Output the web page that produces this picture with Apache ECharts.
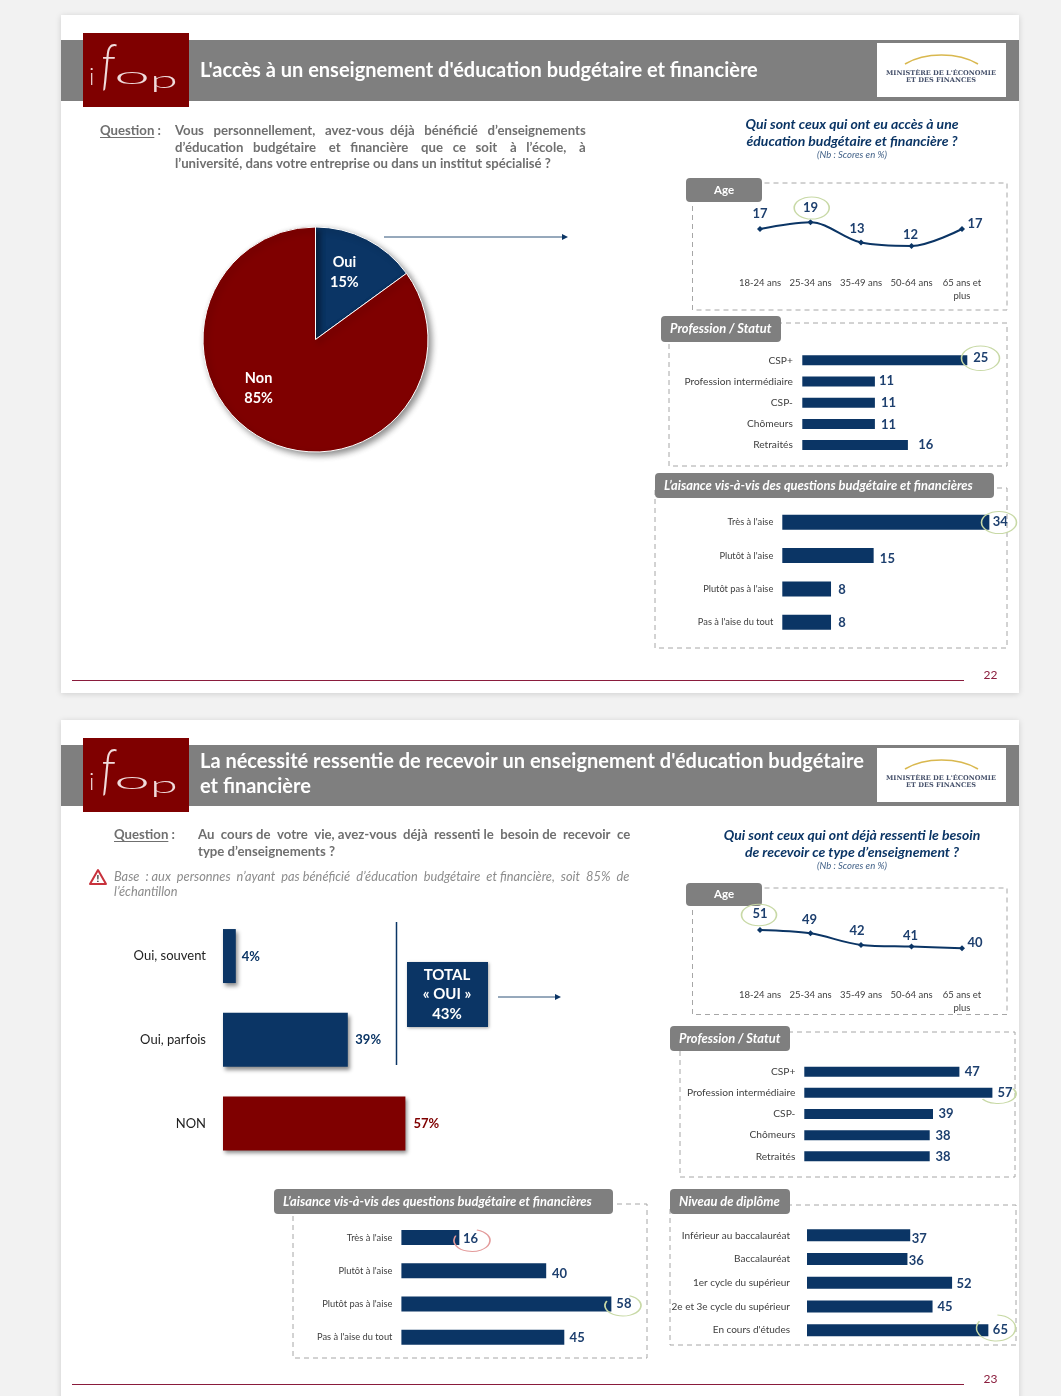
<!DOCTYPE html>
<html lang="fr"><head><meta charset="utf-8"><title>Ifop</title>
<style>html,body{margin:0;padding:0;background:#f2f2f2}#c{width:1061px;height:1396px}</style>
<script src="https://cdn.jsdelivr.net/npm/echarts@6/dist/echarts.min.js"></script></head>
<body><div id="c"></div>
<script>
// ---------- data ----------
const pieNames=['Oui','Non'];
const pieValues=[15,85];
const ageCats=['18-24 ans','25-34 ans','35-49 ans','50-64 ans','65 ans et\nplus'];
const age1=[17,19,13,12,17];
const age2=[51,49,42,41,40];
const profCats=['CSP+','Profession intermédiaire','CSP-','Chômeurs','Retraités'];
const prof1=[25,11,11,11,16];
const prof2=[47,57,39,38,38];
const aiseCats=["Très à l'aise","Plutôt à l'aise","Plutôt pas à l'aise","Pas à l'aise du tout"];
const aise1=[34,15,8,8];
const aise2=[16,40,58,45];
const dipCats=['Inférieur au baccalauréat','Baccalauréat','1er cycle du supérieur','2e et 3e cycle du supérieur',"En cours d'études"];
const dip2=[37,36,52,45,65];
const besoinCats=['Oui, souvent','Oui, parfois','NON'];
const besoin=[4,39,57];
const title1="L'accès à un enseignement d'éducation budgétaire et financière";
const title2=["La nécessité ressentie de recevoir un enseignement d'éducation budgétaire","et financière"];

// ---------- style ----------
const NAVY='#0b3565',MAROON='#7f0000',GRAY='#7f7f7f',FONT='Lato, "Open Sans", sans-serif';
const measure=document.createElement('canvas').getContext('2d');
const g=[];
function text(x,y,s,o={}){
  g.push({type:'text',x,y:y+1,z:o.z||6,silent:true,scaleX:o.scaleX||1,scaleY:o.scaleY||1,
    style:{text:s,fontFamily:o.family||FONT,fontSize:o.size||12,fontWeight:o.weight||'normal',
      fontStyle:o.italic?'italic':'normal',fill:o.fill||'#333',align:o.align||'left',verticalAlign:'middle'}});
}
function rect(x,y,w,h,o={}){
  g.push({type:'rect',z:o.z||1,silent:true,shape:{x,y,width:w,height:h,r:o.r||0},
    style:{fill:o.fill||'none',stroke:o.stroke||null,lineWidth:o.lw||1,lineDash:o.dash||null,
      shadowBlur:o.blur||0,shadowColor:o.shadow||'transparent',shadowOffsetX:o.sx||0,shadowOffsetY:o.sy||0}});
}
function line(x1,y1,x2,y2,c,w){
  g.push({type:'line',z:5,silent:true,shape:{x1,y1,x2,y2},style:{stroke:c,lineWidth:w||1}});
}
function arrow(x1,x2,y){
  line(x1,y,x2-5,y,'#2f5379',1);
  g.push({type:'polygon',z:5,silent:true,shape:{points:[[x2-6,y-3],[x2,y],[x2-6,y+3]]},style:{fill:NAVY}});
}
function ell(cx,cy,rx,ry,c,a0,a1){
  g.push({type:'arc',z:8,silent:true,x:cx,y:cy,scaleX:rx/ry,scaleY:1,
    shape:{cx:0,cy:0,r:ry,startAngle:a0===undefined?0:a0,endAngle:a1===undefined?Math.PI*2:a1},
    style:{stroke:c,lineWidth:1,fill:'none',strokeNoScale:true}});
}
function justified(s,x0,x1,y,o){
  const f=(o.italic?'italic ':'')+(o.weight||'normal')+' '+o.size+'px '+FONT;
  measure.font=f;
  const words=s.split(' ');
  const space=measure.measureText(' ').width;
  const gap=(x1-x0-measure.measureText(words.join('')).width)/(words.length-1);
  let err=0,out=words[0];
  for(let i=1;i<words.length;i++){
    const want=gap+err,n=Math.max(1,Math.round(want/space));
    err=want-n*space;out+=' '.repeat(n)+words[i];
  }
  text(x0,y,out,o);
}
function panel(bx,by,bw,bh,tx,ty,tw,th,label,italic){
  rect(bx,by,bw,bh,{stroke:'#a6a6a6',dash:[5,4],z:1});
  rect(tx,ty,tw,th,{fill:GRAY,r:4,z:3});
  text(tx+(italic?9:tw/2),ty+th/2-1,label,{fill:'#fff',weight:'bold',size:italic?12.9:11.5,italic,align:italic?'left':'center'});
}
function header(dy){
  rect(61,40+dy,958,61,{fill:GRAY,z:2});
  rect(83,33+dy,106,74,{fill:MAROON,z:3});
  const L={family:'Lato',weight:300,size:24,fill:'#f0dcdc'};
  text(89,76+dy,'i',L);
  text(101,64+dy,'f',{...L,size:56,italic:true,scaleX:0.8});
  text(114,75+dy,'o',{...L,scaleX:2.7});
  text(150,79+dy,'p',{...L,scaleX:2.1});
  rect(877,43+dy,129,54,{fill:'#fff',z:3});
  g.push({type:'bezierCurve',z:5,silent:true,shape:{x1:905,y1:64+dy,x2:978,y2:64+dy,cpx1:925,cpy1:52+dy,cpx2:958,cpy2:52+dy},style:{stroke:'#d9b84f',lineWidth:1.6,fill:'none'}});
  text(941,72+dy,"MINISTÈRE DE L'ÉCONOMIE",{family:'DejaVu Serif',weight:'bold',size:6.6,fill:'#45506a',align:'center'});
  text(941,79.5+dy,'ET DES FINANCES',{family:'DejaVu Serif',weight:'bold',size:6.6,fill:'#45506a',align:'center'});
}
function footer(y,n){
  line(72,y+.5,964,y+.5,'#8a1c3c',1);
  text(990.5,y-6,n,{size:12,fill:'#8a1c3c',align:'center'});
}

// ---------- slide furniture ----------
rect(61,15,958,678,{fill:'#fff',z:0,blur:6,shadow:'rgba(0,0,0,.15)',sy:1});
rect(61,720,958,690,{fill:'#fff',z:0,blur:6,shadow:'rgba(0,0,0,.15)',sy:1});
header(0);header(705);
text(200,70,title1,{size:20,weight:'bold',fill:'#fff'});
text(200,761,title2[0],{size:20,weight:'bold',fill:'#fff'});
text(200,786,title2[1],{size:20,weight:'bold',fill:'#fff'});
const Q={size:13.2,weight:'bold',fill:'#6f6f6f'};
function question(x,y){
  text(x,y,'Question :',Q);
  measure.font='bold 13.2px '+FONT;
  line(x,y+7.5,x+measure.measureText('Question').width,y+7.5,'#6f6f6f',1);
}
question(100,130);
justified('Vous personnellement, avez-vous déjà bénéficié d’enseignements',175,585,130,Q);
justified('d’éducation budgétaire et financière que ce soit à l’école, à',175,585,147,Q);
text(175,163,'l’université, dans votre entreprise ou dans un institut spécialisé ?',Q);
question(114,834);
justified('Au cours de votre vie, avez-vous déjà ressenti le besoin de recevoir ce',198,629,834,Q);
text(198,851,'type d’enseignements ?',Q);
const B={size:12.8,italic:true,fill:'#8c8c8c'};
justified('Base : aux personnes n’ayant pas bénéficié d’éducation budgétaire et financière, soit 85% de',114,628,876,B);
text(114,891,'l’échantillon',B);
g.push({type:'polygon',z:5,silent:true,shape:{points:[[98,870],[106,884],[90,884]]},style:{fill:'#fff',stroke:'#c8323c',lineWidth:2,lineJoin:'round'}});
text(98,878,'!',{size:10,weight:'bold',fill:'#222',align:'center'});
const H={size:14,weight:'bold',italic:true,fill:NAVY,align:'center'};
const N={size:9.5,italic:true,fill:'#3f5f86',align:'center'};
text(852,123,'Qui sont ceux qui ont eu accès à une',H);
text(852,140,'éducation budgétaire et financière ?',H);
text(852,154,'(Nb : Scores en %)',N);
text(852,834,'Qui sont ceux qui ont déjà ressenti le besoin',H);
text(852,851,'de recevoir ce type d’enseignement ?',H);
text(852,865,'(Nb : Scores en %)',N);
arrow(384,568,237);
arrow(498,561,997);
line(396.5,922,396.5,1065,NAVY,1.5);
rect(407,962,81,65,{fill:NAVY,z:3,blur:3,shadow:'rgba(0,0,0,.35)',sx:1,sy:1});
text(447,974,'TOTAL',{size:15,weight:'bold',fill:'#fff',align:'center'});
text(447,993,'« OUI »',{size:15,weight:'bold',fill:'#fff',align:'center'});
text(447,1013,'43%',{size:15,weight:'bold',fill:'#fff',align:'center'});
panel(692.5,183,314.5,127,686,178,76,24,'Age',false);
panel(669,323,338,143,661,316,120,26,'Profession / Statut',true);
panel(655,488,352,160,655,473,339,25,'L’aisance vis-à-vis des questions budgétaire et financières',true);
panel(692.5,888,314.5,126.5,686,883,76,23,'Age',false);
panel(680,1032,335,145,670,1026,120,25,'Profession / Statut',true);
panel(293,1204,354,154,274,1189,339,25,'L’aisance vis-à-vis des questions budgétaire et financières',true);
panel(670,1205,346,140,670,1189,120,25,'Niveau de diplôme',true);
footer(680,'22');footer(1384,'23');
const GREEN='#c8d9a6',RED='#e39a9a';
ell(811.7,208,17.5,11,GREEN);
ell(980.5,358.3,19,12.3,GREEN);
ell(999,522.5,17.5,11,GREEN);
ell(759,915,17.5,10.7,GREEN);
ell(998,1094,18,9.5,GREEN,-0.6,2.6);
ell(472,1240.5,18,11,RED,-1.3,3.6);
ell(623,1305.5,18,10.5,GREEN,-1.2,3.6);
ell(996,1328,19.5,13,GREEN,-1.5,3.7);

// ---------- charts ----------
const grids=[],xAxes=[],yAxes=[],series=[];
function addBar(c){
  const i=grids.length,n=c.cats.length;
  grids.push({left:c.x,top:c.top,width:c.unit*c.max,height:c.step*n,containLabel:false});
  xAxes.push({gridIndex:i,type:'value',min:0,max:c.max,show:false});
  yAxes.push({gridIndex:i,z:4,type:'category',inverse:true,data:c.cats,axisLine:{show:false},axisTick:{show:false},
    axisLabel:{margin:c.margin,fontFamily:FONT,fontSize:c.fs||9.5,color:c.lc||'#404040'}});
  series.push({type:'bar',xAxisIndex:i,yAxisIndex:i,barWidth:c.h,silent:true,
    data:c.vals.map((v,k)=>({value:v,
      itemStyle:{color:(c.colors&&c.colors[k])||NAVY},
      label:{offset:c.off[k],color:(c.colors&&c.colors[k])||'#1d3f6e'}})),
    itemStyle:c.shadow?{shadowColor:'rgba(0,0,0,.45)',shadowBlur:4,shadowOffsetX:2,shadowOffsetY:3}:{},
    label:{show:true,position:'right',distance:5,fontFamily:FONT,fontWeight:'bold',fontSize:13,
      formatter:c.pct?'{c}%':'{c}'}});
}
function addLine(c){
  const i=grids.length;
  grids.push({left:c.x,top:c.top,width:252.5,height:c.h,containLabel:false});
  xAxes.push({gridIndex:i,z:4,type:'category',data:ageCats,boundaryGap:true,axisLine:{show:false},axisTick:{show:false},
    axisLabel:{margin:c.margin,interval:0,fontFamily:FONT,fontSize:9.5,lineHeight:13.5,color:'#404040'}});
  yAxes.push({gridIndex:i,type:'value',min:c.min,max:c.max,show:false,splitLine:{show:false}});
  series.push({type:'line',xAxisIndex:i,yAxisIndex:i,smooth:0.33,silent:true,symbol:'diamond',symbolSize:6,
    lineStyle:{color:NAVY,width:2},itemStyle:{color:NAVY},
    data:c.vals.map((v,k)=>({value:v,label:{offset:c.off[k]}})),
    label:{show:true,position:'top',distance:5,fontFamily:FONT,fontWeight:'bold',fontSize:13,color:'#1d3f6e'}});
}
addLine({x:734.75,top:201.8,h:68,min:5,max:25,margin:6,vals:age1,off:[[0,-1],[0,0.4],[-4,0.3],[-1,3.3],[13,9]]});
addLine({x:734.75,top:915,h:49.9,min:30,max:60,margin:23,vals:age2,off:[[0,-1.3],[-1,1.3],[-4,.7],[-1,3.4],[13,9]]});
addBar({cats:profCats,vals:prof1,x:802.3,top:349.7,step:21.2,unit:6.6,max:30,h:10,margin:9.5,fs:10.2,off:[[1,-2],[-1,-1],[1,0],[1,.5],[5.4,0]]});
addBar({cats:aiseCats,vals:aise1,x:782.3,top:505.6,step:33.33,unit:6.09,max:36,h:15,margin:9,fs:9.3,off:[[-1.6,0],[1.2,3.3],[2.2,0.7],[2.2,0.7]]});
addBar({cats:profCats,vals:prof2,x:804.3,top:1061.1,step:21.15,unit:3.3,max:60,h:10,margin:9,fs:10.2,off:[[.4,.6],[0,.3],[.5,.3],[.8,.3],[.8,.4]]});
addBar({cats:aiseCats,vals:aise2,x:401.4,top:1221,step:33.2,unit:3.62,max:62,h:15,margin:9,fs:9.3,off:[[-1.3,1],[.7,3],[0,-.3],[.3,.7]]});
addBar({cats:dipCats,vals:dip2,x:807,top:1223.5,step:23.7,unit:2.79,max:70,h:12,margin:17,fs:10,off:[[-3.6,3],[-3.7,1.3],[-.5,1],[0,.4],[-.5,0]]});
addBar({cats:besoinCats,vals:besoin,x:223,top:914.2,step:83.7,unit:3.2,max:62,h:54,margin:17,fs:13,lc:'#222',shadow:true,pct:true,
  colors:[NAVY,NAVY,MAROON],off:[[1,1],[2.5,.3],[3,.7]]});
series.push({type:'pie',center:[315.5,339.5],radius:[0,112.5],startAngle:90,clockwise:true,silent:true,
  data:pieNames.map((n,i)=>({name:n,value:pieValues[i],
    itemStyle:{color:[NAVY,MAROON][i]},label:{offset:[[2,-14],[-30,-4]][i]}})),
  itemStyle:{borderColor:'#fff',borderWidth:1,shadowColor:'rgba(0,0,0,.45)',shadowBlur:6,shadowOffsetX:3,shadowOffsetY:3},
  label:{show:true,position:'inside',formatter:'{b}\n{c}%',color:'#fff',fontFamily:FONT,fontWeight:'bold',fontSize:14.5,lineHeight:20},
  labelLine:{show:false}});

const chart=echarts.init(document.getElementById('c'),null,{renderer:'canvas',width:1061,height:1396});
chart.setOption({animation:false,backgroundColor:'#f2f2f2',tooltip:{show:false},grid:grids,xAxis:xAxes,yAxis:yAxes,series,graphic:{elements:g}});
</script></body></html>
